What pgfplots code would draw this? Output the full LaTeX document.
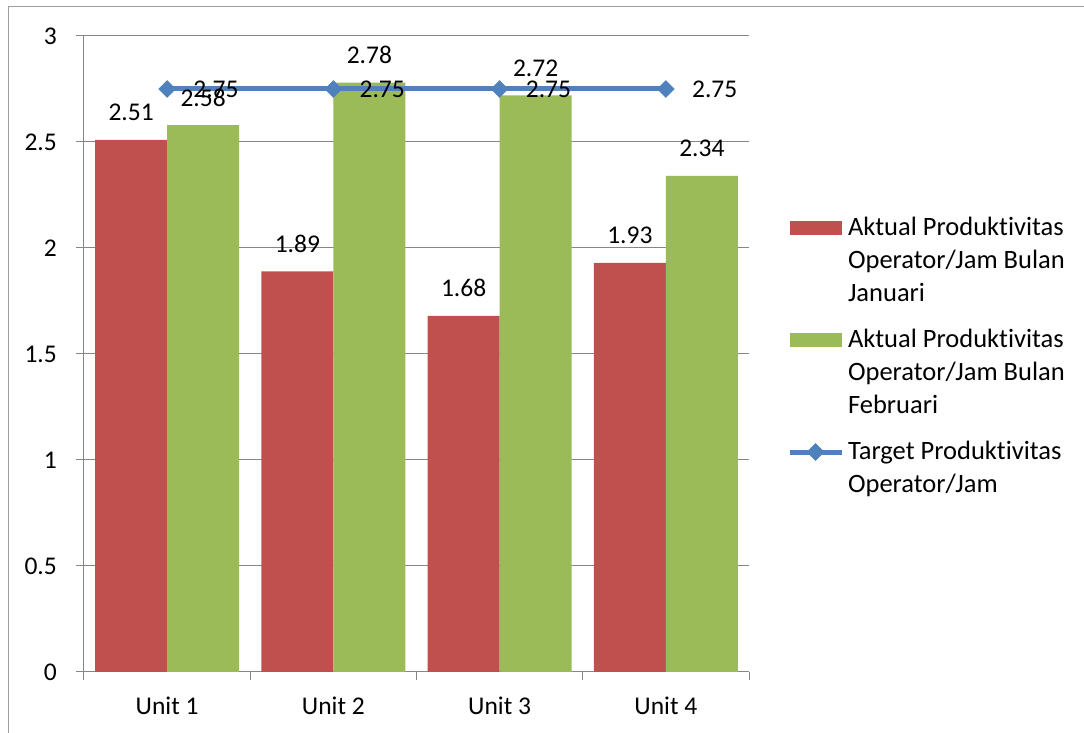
\documentclass[border=0pt]{standalone}
\usepackage{pgfplots}
\pgfplotsset{compat=1.18}
\usepackage{fontspec}
\setmainfont{Carlito}[Ligatures=NoCommon]
\definecolor{cRed}{HTML}{C0504D}
\definecolor{cGreen}{HTML}{9BBB59}
\definecolor{cBlue}{HTML}{4F81BD}
\definecolor{cGrid}{HTML}{868686}
\newcommand{\fs}{\fontsize{25.5}{34}\selectfont}
\newcommand{\fl}{\fontsize{26.5}{33}\selectfont}
\pgfplotsset{
  mylinelegend/.style={legend image code/.code={\draw[mark repeat=2,mark phase=2,##1] plot coordinates {(0pt,7pt) (26pt,7pt) (52pt,7pt)};}},
  redlegend/.style={legend image code/.code={\fill[cRed] (0pt,0pt) rectangle (52pt,14pt);}},
  greenlegend/.style={legend image code/.code={\fill[cGreen] (0pt,0pt) rectangle (52pt,14pt);}},
}
\begin{document}
\begin{tikzpicture}[x=1pt,y=1pt]
\draw[cGrid!80, line width=1pt] (8,0) -- (8,726) -- (1084,726);
\begin{axis}[
  at={(84pt,61pt)}, anchor=south west,
  scale only axis, width=665pt, height=636pt,
  xmin=-0.5, xmax=3.5, ymin=0, ymax=3,
  axis x line*=bottom, axis y line*=left,
  axis line style={cGrid, line width=1pt},
  xtick={0,1,2,3}, xticklabels={Unit 1,Unit 2,Unit 3,Unit 4},
  minor xtick={-0.5,0.5,1.5,2.5,3.5},
  major x tick style={draw=none},
  ytick={0,0.5,1,1.5,2,2.5,3},
  tick align=outside, major tick length=8pt, minor tick length=8pt,
  tick style={cGrid, line width=1pt},
  ymajorgrids, grid style={cGrid, line width=1pt},
  ticklabel style={font=\fs, inner sep=0pt},
  yticklabel style={anchor=east, xshift=-19pt},
  xticklabel style={anchor=base, yshift=-35pt},
  /pgf/number format/assume math mode=true,
  legend style={at={(1.0572,0.7234)}, anchor=north west, draw=none, fill=none,
    inner sep=0pt, outer sep=0pt, font=\fl, row sep=13pt, column sep=4pt,
    nodes={inner sep=0pt, text depth=},
    cells={anchor=base west}},
]
\addplot[ybar, bar width=0.433, bar shift=-0.2165, fill=cRed, draw=none,
  nodes near coords,
  every node near coord/.append style={font=\fs, anchor=base, xshift=-36pt, yshift=19pt, inner sep=0pt, text=black},
  redlegend]
  coordinates {(0,2.51) (1,1.89) (2,1.68) (3,1.93)};
\addlegendentry{\begin{tabular}[t]{@{}l@{}}Aktual Produktivitas\\Operator/Jam Bulan\\Januari\end{tabular}}
\addplot[ybar, bar width=0.433, bar shift=0.2165, fill=cGreen, draw=none,
  nodes near coords,
  every node near coord/.append style={font=\fs, anchor=base, xshift=36pt, yshift=19pt, inner sep=0pt, text=black},
  greenlegend]
  coordinates {(0,2.58) (1,2.78) (2,2.72) (3,2.34)};
\addlegendentry{\begin{tabular}[t]{@{}l@{}}Aktual Produktivitas\\Operator/Jam Bulan\\Februari\end{tabular}}
\addplot[cBlue, line width=5pt, mark=square*, mark size=6pt,
  mark options={rotate=45, line width=0.5pt, fill=cBlue},
  nodes near coords,
  every node near coord/.append style={font=\fs, anchor=base west, xshift=26pt, yshift=-9pt, inner sep=0pt, text=black},
  mylinelegend]
  coordinates {(0,2.75) (1,2.75) (2,2.75) (3,2.75)};
\addlegendentry{\begin{tabular}[t]{@{}l@{}}Target Produktivitas\\Operator/Jam\end{tabular}}
\end{axis}
\pgfresetboundingbox
\useasboundingbox (0,0) rectangle (1084,733);
\end{tikzpicture}
\end{document}
